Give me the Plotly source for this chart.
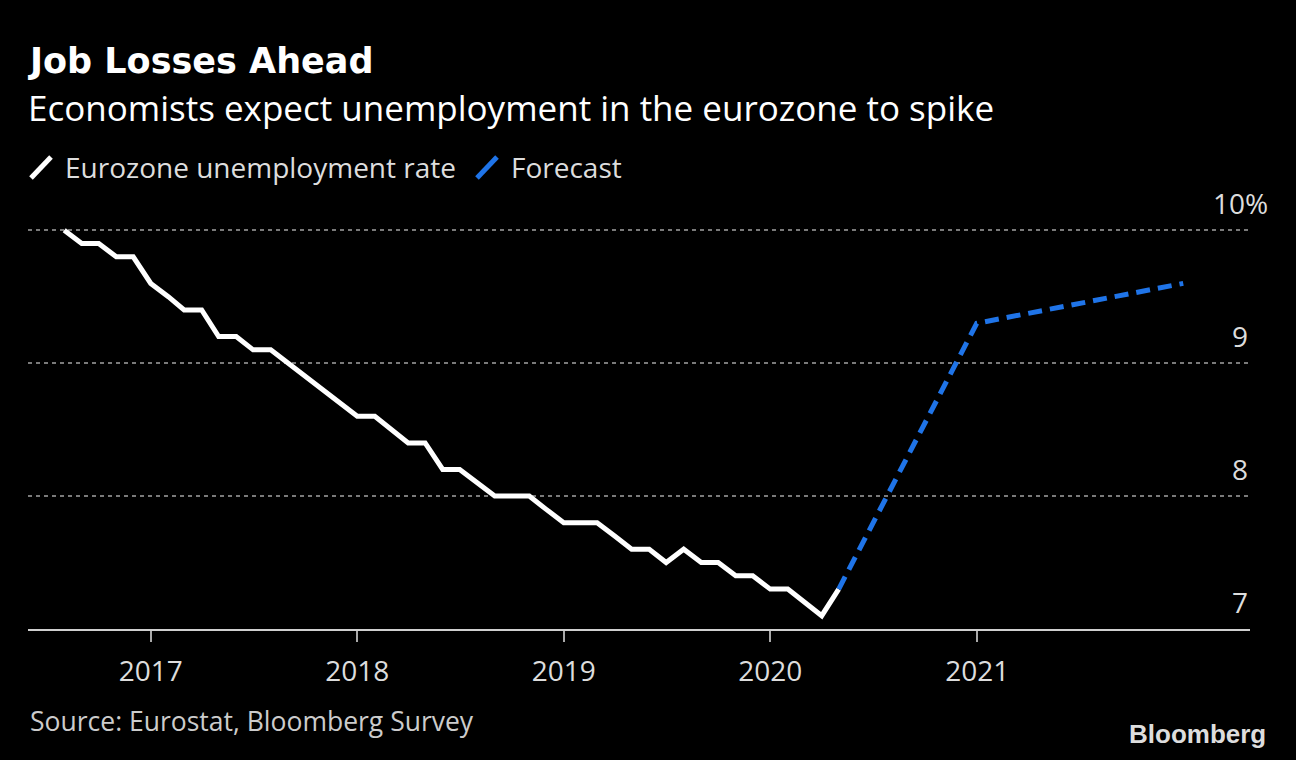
import plotly.graph_objects as go

# ---- data ----
actual_dates = [
    "2016-08-01", "2016-09-01", "2016-10-01", "2016-11-01", "2016-12-01",
    "2017-01-01", "2017-02-01", "2017-03-01", "2017-04-01", "2017-05-01", "2017-06-01",
    "2017-07-01", "2017-08-01", "2017-09-01", "2017-10-01", "2017-11-01", "2017-12-01",
    "2018-01-01", "2018-02-01", "2018-03-01", "2018-04-01", "2018-05-01", "2018-06-01",
    "2018-07-01", "2018-08-01", "2018-09-01", "2018-10-01", "2018-11-01", "2018-12-01",
    "2019-01-01", "2019-02-01", "2019-03-01", "2019-04-01", "2019-05-01", "2019-06-01",
    "2019-07-01", "2019-08-01", "2019-09-01", "2019-10-01", "2019-11-01", "2019-12-01",
    "2020-01-01", "2020-02-01", "2020-03-01", "2020-04-01", "2020-05-01",
]
actual_rate = [
    10.0, 9.9, 9.9, 9.8, 9.8,
    9.6, 9.5, 9.4, 9.4, 9.2, 9.2,
    9.1, 9.1, 9.0, 8.9, 8.8, 8.7,
    8.6, 8.6, 8.5, 8.4, 8.4, 8.2,
    8.2, 8.1, 8.0, 8.0, 8.0, 7.9,
    7.8, 7.8, 7.8, 7.7, 7.6, 7.6,
    7.5, 7.6, 7.5, 7.5, 7.4, 7.4,
    7.3, 7.3, 7.2, 7.1, 7.3,
]
forecast_dates = ["2020-05-01", "2020-12-31", "2021-12-31"]
forecast_rate = [7.3, 9.3, 9.6]

year_ticks = ["2017-01-01", "2018-01-01", "2019-01-01", "2020-01-01", "2021-01-01"]
year_labels = ["2017", "2018", "2019", "2020", "2021"]
y_ticks = [7, 8, 9, 10]
y_labels = ["7", "8", "9", "10%"]
grid_vals = [8, 9, 10]

title = "Job Losses Ahead"
subtitle = "Economists expect unemployment in the eurozone to spike"
legend_names = ["Eurozone unemployment rate", "Forecast"]
source = "Source: Eurostat, Bloomberg Survey"

WHITE = "#ffffff"
BLUE = "#1f74e8"
FONT = "Open Sans, DejaVu Sans, sans-serif"
TITLE_FONT = "DejaVu Sans, Open Sans, sans-serif"

# ---- layout geometry (pixels) ----
W, H = 1296, 760
L, R, T, B = 28, 46, 197, 131
PW = W - L - R
PH = H - T - B


def py(p):
    return (H - B - p) / PH


def px(p):
    return (p - L) / PW


fig = go.Figure()
fig.add_trace(go.Scatter(
    x=actual_dates, y=actual_rate, mode="lines",
    line=dict(color=WHITE, width=5), showlegend=False, hoverinfo="skip",
))
fig.add_trace(go.Scatter(
    x=forecast_dates, y=forecast_rate, mode="lines",
    line=dict(color=BLUE, width=5, dash="14px,8px"), showlegend=False, hoverinfo="skip",
))

annotations = [
    dict(text="<b>" + title + "</b>", x=0, y=py(61), xref="paper", yref="paper",
         xanchor="left", yanchor="middle", showarrow=False, xshift=-2,
         font=dict(family=TITLE_FONT, size=35, color="#ffffff")),
    dict(text=subtitle, x=0, y=py(107), xref="paper", yref="paper",
         xanchor="left", yanchor="middle", showarrow=False, xshift=-2,
         font=dict(family=FONT, size=35, color="#ffffff")),
    dict(text=legend_names[0], x=px(63), y=py(167), xref="paper", yref="paper",
         xanchor="left", yanchor="middle", showarrow=False,
         font=dict(family=FONT, size=28, color="#dddddd")),
    dict(text=legend_names[1], x=px(509), y=py(167), xref="paper", yref="paper",
         xanchor="left", yanchor="middle", showarrow=False,
         font=dict(family=FONT, size=28, color="#dddddd")),
    dict(text=source, x=0, y=py(721), xref="paper", yref="paper",
         xanchor="left", yanchor="middle", showarrow=False,
         font=dict(family=FONT, size=26.5, color="#cccccc")),
    dict(text="<b>Bloomberg</b>", x=px(1268), y=py(734), xref="paper", yref="paper",
         xanchor="right", yanchor="middle", showarrow=False,
         font=dict(family="Liberation Sans, Arial, sans-serif", size=26, color="#dddddd")),
]
for v, lab in zip(y_ticks, y_labels):
    annotations.append(dict(
        text=lab, x=1, y=v, xref="paper", yref="y", xanchor="right", yanchor="middle",
        xshift=(20 if lab.endswith("%") else 0), yshift=27, showarrow=False,
        font=dict(family=FONT, size=28, color="#dddddd"),
    ))

shapes = [
    dict(type="line", xref="paper", yref="paper", x0=px(31), x1=px(51), y0=py(178), y1=py(157),
         line=dict(color=WHITE, width=5)),
    dict(type="line", xref="paper", yref="paper", x0=px(477), x1=px(497), y0=py(178), y1=py(157),
         line=dict(color=BLUE, width=5)),
]

fig.update_layout(
    width=W, height=H,
    margin=dict(l=L, r=R, t=T, b=B),
    paper_bgcolor="#000000", plot_bgcolor="#000000",
    showlegend=False,
    annotations=annotations, shapes=shapes,
    xaxis=dict(
        type="date", range=["2016-05-29", "2022-04-28"],
        tickvals=year_ticks, ticktext=year_labels,
        showgrid=False, zeroline=False,
        showline=True, linecolor="#cfcfcf", linewidth=2,
        ticks="outside", ticklen=11, tickwidth=1.5, tickcolor="#aaaaaa",
        ticklabelstandoff=5,
        tickfont=dict(family=FONT, size=28, color="#dddddd"),
    ),
    yaxis=dict(
        range=[7, 10.25], tickvals=grid_vals, showticklabels=False,
        showgrid=True, gridcolor="#7a7a7a", gridwidth=1.5, griddash="4px,4px",
        zeroline=False, showline=False, ticks="",
    ),
)

fig.write_html(
    "out.html",
    config={"displayModeBar": False},
    post_script="document.body.style.margin='0';document.body.style.background='#000';",
)
